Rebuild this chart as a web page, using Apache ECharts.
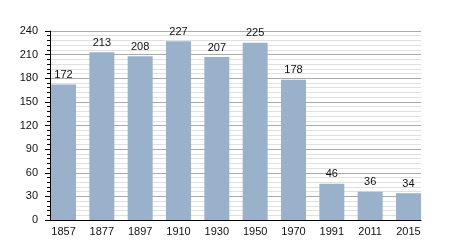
<!DOCTYPE html>
<html><head><meta charset="utf-8">
<script src="https://cdn.jsdelivr.net/npm/echarts@6/dist/echarts.min.js"></script>
<style>html,body{margin:0;padding:0;background:#fff}#c{width:450px;height:250px}</style>
</head><body><div id="c"></div>
<script>
var categories = ['1857','1877','1897','1910','1930','1950','1970','1991','2011','2015'];
var population = [172,213,208,227,207,225,178,46,36,34];
var yMin = 0, yMax = 240, yStep = 30;

var chart = echarts.init(document.getElementById('c'), null, {renderer:'canvas'});
var font = 'Liberation Sans, Arial, sans-serif';
chart.setOption({
  animation:false,
  backgroundColor:'#ffffff',
  grid:[
    {left:50, right:29, top:31, bottom:30},
    {left:44.35, right:22.35, top:31, bottom:30}
  ],
  xAxis:[
    {gridIndex:0, type:'value', min:0, max:1, axisLine:{show:true, onZero:false, lineStyle:{color:'#000', width:1}},
     axisTick:{show:false}, axisLabel:{show:false}, splitLine:{show:false}},
    {gridIndex:1, type:'category', data:categories, axisLine:{show:false}, axisTick:{show:false},
     axisLabel:{color:'#111', fontSize:11, fontFamily:font, margin:6}}
  ],
  yAxis:[
    {gridIndex:0, type:'value', min:yMin, max:yMax, interval:yStep,
     axisLine:{show:true, lineStyle:{color:'#000', width:1}},
     axisTick:{show:true, inside:false, length:5, lineStyle:{color:'#000'}},
     minorTick:{show:true, splitNumber:5, length:3, lineStyle:{color:'#000'}},
     axisLabel:{color:'#111', fontSize:11, fontFamily:font, margin:12},
     splitLine:{show:true, lineStyle:{color:'#aaaaaa', width:1}},
     minorSplitLine:{show:true, lineStyle:{color:'#e0e0e0', width:1}}},
    {gridIndex:1, type:'value', min:yMin, max:yMax, show:false, splitLine:{show:false}}
  ],
  series:[{
    type:'bar', xAxisIndex:1, yAxisIndex:1, data:population, barWidth:25,
    itemStyle:{color:'#9ab1cc'},
    label:{show:true, position:'top', distance:4, color:'#111', fontSize:11, fontFamily:font}
  }]
});
</script></body></html>
